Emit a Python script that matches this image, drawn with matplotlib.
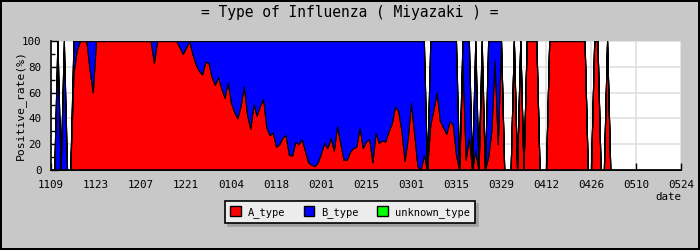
import matplotlib.pyplot as plt
import matplotlib.patches as mpatches
import numpy as np

# daily positive rates from 1109 to 0524, missing days are 0 / 0
tick_labels = ['1109', '1123', '1207', '1221', '0104', '0118', '0201', '0215',
               '0301', '0315', '0329', '0412', '0426', '0510', '0524']

a_type = [
    0, 0, 0, 0, 0, 0, 0, 75, 93, 100, 100, 100, 78, 60,
    100, 100, 100, 100, 100, 100, 100, 100, 100, 100, 100, 100, 100, 100,
    100, 100, 100, 100, 83, 100, 100, 100, 100, 100, 100, 100, 95, 90,
    95, 100, 90, 82, 77, 74, 84, 83, 72, 66, 72, 63, 56, 68,
    52, 45, 40, 50, 65, 43, 32, 51, 42, 50, 55, 33, 27, 29,
    18, 20, 25, 27, 12, 11, 22, 20, 24, 15, 6, 4, 3, 6,
    13, 21, 17, 25, 15, 34, 21, 8, 8, 14, 17, 18, 33, 17,
    22, 24, 6, 29, 21, 23, 22, 30, 36, 49, 46, 31, 7, 25,
    52, 28, 3, 0, 12, 0, 35, 47, 60, 38, 33, 28, 38, 35,
    12, 0, 85, 8, 25, 0, 15, 0, 83, 0, 10, 30, 85, 20,
    100, 0, 0, 0, 100, 0, 100, 0, 100, 100, 100, 100, 0, 0,
    0, 100, 100, 100, 100, 100, 100, 100, 100, 100, 100, 100, 100, 0,
    0, 100, 100, 0, 0, 100, 0, 0, 0, 0, 0, 0, 0, 0,
    0, 0, 0, 0, 0, 0, 0, 0, 0, 0, 0, 0, 0, 0,
    0,
]

b_type = [
    0, 0, 100, 0, 100, 0, 0, 25, 7, 0, 0, 0, 22, 40,
    0, 0, 0, 0, 0, 0, 0, 0, 0, 0, 0, 0, 0, 0,
    0, 0, 0, 0, 17, 0, 0, 0, 0, 0, 0, 0, 5, 10,
    5, 0, 10, 18, 23, 26, 16, 17, 28, 34, 28, 37, 44, 32,
    48, 55, 60, 50, 35, 57, 68, 49, 58, 50, 45, 67, 73, 71,
    82, 80, 75, 73, 88, 89, 78, 80, 76, 85, 94, 96, 97, 94,
    87, 79, 83, 75, 85, 66, 79, 92, 92, 86, 83, 82, 67, 83,
    78, 76, 94, 71, 79, 77, 78, 70, 64, 51, 54, 69, 93, 75,
    48, 72, 97, 100, 88, 0, 65, 53, 40, 62, 67, 72, 62, 65,
    88, 0, 15, 92, 75, 0, 85, 0, 17, 0, 90, 70, 15, 80,
    0, 0, 0, 0, 0, 0, 0, 0, 0, 0, 0, 0, 0, 0,
    0, 0, 0, 0, 0, 0, 0, 0, 0, 0, 0, 0, 0, 0,
    0, 0, 0, 0, 0, 0, 0, 0, 0, 0, 0, 0, 0, 0,
    0, 0, 0, 0, 0, 0, 0, 0, 0, 0, 0, 0, 0, 0,
    0,
]

unknown_type = [0] * len(a_type)

series_names = ['A_type', 'B_type', 'unknown_type']
colors = ['#ff0000', '#0000ff', '#00ff00']
mono = 'DejaVu Sans Mono'

days = np.arange(len(a_type))

fig = plt.figure(figsize=(7, 2.5), dpi=100, facecolor='#c8c8c8',
                 edgecolor='black', linewidth=1.5)
ax = fig.add_axes([51/700, 80/250, 630/700, 129/250])

ax.stackplot(days, a_type, b_type, unknown_type, colors=colors,
             edgecolor='black', linewidth=0.8, zorder=2)

ax.set_xlim(0, len(days) - 1)
ax.set_ylim(0, 100)
ax.set_xticks(np.arange(0, len(days), 14))
ax.set_xticklabels(tick_labels)
ax.set_yticks(np.arange(0, 101, 20))
ax.set_yticks(np.arange(0, 101, 10), minor=True)
ax.set_axisbelow(True)
ax.grid(color='#dedede', linewidth=1.1, zorder=0)

for side in ['top', 'right']:
    ax.spines[side].set_visible(False)
for side in ['left', 'bottom']:
    ax.spines[side].set_linewidth(1.2)

ax.tick_params(axis='both', which='major', direction='in', length=5, width=1,
               labelsize=7.8, pad=7)
ax.tick_params(axis='y', which='minor', direction='in', length=3, width=1)
for lab in ax.get_xticklabels() + ax.get_yticklabels():
    lab.set_family(mono)

fig.text(0.5, 1 - 13/250, '= Type of Influenza ( Miyazaki ) =',
         ha='center', va='center', family=mono, fontsize=10.5)
fig.text(20/700, 1 - 105/250, 'Positive_rate(%)', rotation=90,
         ha='center', va='center', family=mono, fontsize=8.2)
fig.text(668/700, 1 - 197/250, 'date', ha='center', va='center',
         family=mono, fontsize=7.8)

handles = [mpatches.Patch(facecolor=c, edgecolor='black', label=n)
           for c, n in zip(colors, series_names)]
leg = fig.legend(handles=handles, loc='center', ncol=3,
                 bbox_to_anchor=(350/700, 1 - 212/250),
                 prop={'family': mono, 'size': 7.5},
                 handlelength=1.0, handleheight=1.0, handletextpad=0.65,
                 columnspacing=1.8, borderpad=0.5,
                 fancybox=False, shadow={'color': '#a0a0a0', 'alpha': 1},
                 framealpha=1, facecolor='#ececec', edgecolor='black')
leg.get_frame().set_linewidth(1.2)

fig.savefig('out.png', dpi=100, facecolor=fig.get_facecolor(),
            edgecolor=fig.get_edgecolor())
